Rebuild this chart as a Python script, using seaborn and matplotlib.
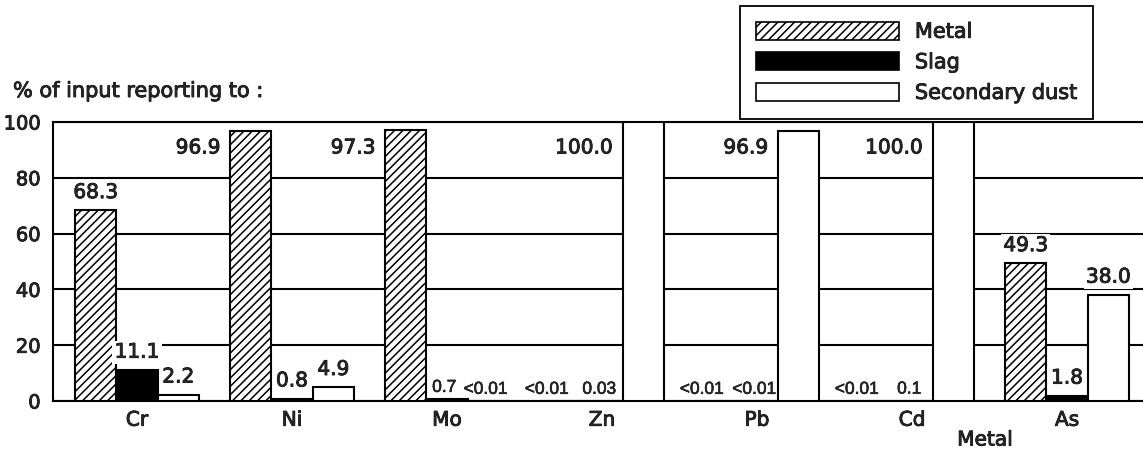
import numpy as np
import pandas as pd
import matplotlib
matplotlib.use("Agg")
import matplotlib.pyplot as plt
import matplotlib.patheffects as pe
import seaborn as sns
from matplotlib.patches import Patch

# Distribution of each element between the furnace products (% of input)
elements = ["Cr", "Ni", "Mo", "Zn", "Pb", "Cd", "As"]
fractions = ["Metal", "Slag", "Secondary dust"]
metal = [68.3, 96.9, 97.3, 0.005, 0.005, 0.005, 49.3]
slag = [11.1, 0.8, 0.7, 0.03, 0.005, 0.1, 1.8]
dust = [2.2, 4.9, 0.005, 100.0, 96.9, 100.0, 38.0]
metal_labels = ["68.3", "96.9", "97.3", "<0.01", "<0.01", "<0.01", "49.3"]
slag_labels = ["11.1", "0.8", "0.7", "0.03", "<0.01", "0.1", "1.8"]
dust_labels = ["2.2", "4.9", "<0.01", "100.0", "96.9", "100.0", "38.0"]
y_ticks = [0, 20, 40, 60, 80, 100]

sns.set_style("white")
plt.rcParams["font.family"] = ["DejaVu Sans"]
plt.rcParams["hatch.linewidth"] = 1.1

# slightly heavier strokes for all lettering
heavy = [pe.withStroke(linewidth=0.6, foreground="black")]
light = [pe.withStroke(linewidth=0.4, foreground="black")]

SMALL = 0.75  # values below this get the compact label style

df = pd.DataFrame({
    "element": elements * 3,
    "fraction": np.repeat(fractions, len(elements)),
    "value": metal + slag + dust,
})
labels = [metal_labels, slag_labels, dust_labels]

W, H = 1143, 453
fig = plt.figure(figsize=(W / 100, H / 100), dpi=100)
ax = fig.add_axes([53 / W, 52 / H, (W - 53) / W, 279 / H])

sns.barplot(data=df, x="element", y="value", hue="fraction",
            hue_order=fractions, palette=["white", "black", "white"],
            saturation=1, width=0.8, edgecolor="black", linewidth=1.5,
            legend=False, ax=ax, zorder=3)

hatches = ["////", None, None]
for cont, hatch in zip(ax.containers, hatches):
    for bar in cont:
        if hatch:
            bar.set_hatch(hatch)

ax.set_ylim(0, 100)
ax.set_xlim(-0.542, 6.49)
ax.set_yticks(y_ticks)
ax.set_xlabel("")
ax.set_ylabel("")
ax.yaxis.grid(True, color="black", linewidth=1.5, zorder=0)
ax.set_axisbelow(True)
ax.tick_params(axis="y", length=0, pad=9, labelsize=14)
ax.tick_params(axis="x", length=0, pad=7, labelsize=14.5)
for t in ax.get_xticklabels() + ax.get_yticklabels():
    t.set_path_effects(heavy)
for side in ["left", "bottom", "top"]:
    ax.spines[side].set_visible(True)
    ax.spines[side].set_color("black")
    ax.spines[side].set_linewidth(1.5)
ax.spines["right"].set_visible(False)

# value labels: tall bars get their label to the left, tiny values get a
# compact label (a tiny metal value is nudged left when the slag value beside
# it is tiny too), the rest sit above the bar
conts = list(ax.containers)
for h, (cont, labs) in enumerate(zip(conts, labels)):
    for i, (bar, lab) in enumerate(zip(cont, labs)):
        v = bar.get_height()
        x0 = bar.get_x()
        xc = x0 + bar.get_width() / 2
        if v >= 90:
            ax.annotate(lab, (x0, 90.7), xytext=(-7, 0), textcoords="offset points",
                        ha="right", va="center", fontsize=14.5, zorder=5,
                        path_effects=heavy)
        elif v < SMALL:
            crowded = h == 0 and conts[1][i].get_height() < SMALL
            dx = -10 if crowded else -2
            ax.annotate(lab, (xc, v), xytext=(dx, 3), textcoords="offset points",
                        ha="center", va="bottom", fontsize=12.5,
                        family=["Liberation Sans"], zorder=5, path_effects=light)
        else:
            ax.annotate(lab, (xc, v), xytext=(0, 6), textcoords="offset points",
                        ha="center", va="bottom", fontsize=14.5, zorder=5,
                        path_effects=heavy,
                        bbox=dict(boxstyle="square,pad=0.1", fc="white", ec="none"))

handles = [
    Patch(facecolor="white", edgecolor="black", hatch="////", linewidth=1.2),
    Patch(facecolor="black", edgecolor="black", linewidth=1.2),
    Patch(facecolor="white", edgecolor="black", linewidth=1.2),
]
leg = fig.legend(handles, fractions, loc="upper right",
                 bbox_to_anchor=(1093 / W, 1 - 6 / H), bbox_transform=fig.transFigure,
                 frameon=True, fancybox=False, shadow=False, framealpha=1,
                 edgecolor="black", handlelength=6.9, handleheight=0.95,
                 labelspacing=0.5, handletextpad=0.75, borderpad=0.75,
                 borderaxespad=0, fontsize=15)
leg.get_frame().set_linewidth(1.3)
for t in leg.get_texts():
    t.set_path_effects(heavy)

fig.text(13 / W, 1 - 91 / H, "% of input reporting to :", fontsize=15,
         ha="left", va="center", path_effects=heavy)
fig.text(985 / W, 1 - 440 / H, "Metal", fontsize=14.5, ha="center", va="center",
         path_effects=heavy)

fig.savefig("out.png", dpi=100)
